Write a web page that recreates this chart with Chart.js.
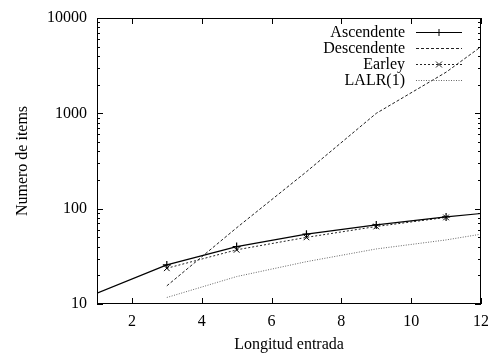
<!DOCTYPE html>
<html>
<head>
<meta charset="utf-8">
<script src="https://cdn.jsdelivr.net/npm/chart.js@4"></script>
<style>
  html, body { margin: 0; padding: 0; background: #fff; }
  #wrap { width: 488px; height: 356px; }
</style>
</head>
<body>
<div id="wrap"><canvas id="myChart"></canvas></div>
<script>
const xAsc = [1, 3, 5, 7, 9, 11, 12];
const ascendente = [13, 25.7, 40, 54, 67.5, 82, 89];
const xDesc = [3, 5, 7, 9, 11, 12];
const descendente = [15.5, 63, 244, 1000, 2700, 5000];
const xEarley = [3, 5, 7, 9, 11];
const earley = [23.7, 37, 50, 65, 81];
const xLalr = [3, 5, 7, 9, 11, 12];
const lalr = [11.7, 19.4, 27.8, 37.8, 47, 54];
const xTicks = [2, 4, 6, 8, 10, 12];
const yTicks = [10, 100, 1000, 10000];

const pts = (xs, ys) => xs.map((x, i) => ({ x: x, y: ys[i] }));
const FONT = 'Liberation Serif';

// gnuplot-like frame: inward ticks on all four sides, log minor ticks
const frame = {
  id: 'frame',
  afterDraw(chart) {
    const { ctx, chartArea: a, scales: { x, y } } = chart;
    ctx.save();
    ctx.strokeStyle = '#000';
    ctx.lineWidth = 1;
    ctx.strokeRect(a.left + 0.5, a.top + 0.5, a.right - a.left - 1, a.bottom - a.top - 1);
    ctx.beginPath();
    xTicks.forEach(v => {
      const px = Math.round(x.getPixelForValue(v)) + 0.5;
      ctx.moveTo(px, a.bottom); ctx.lineTo(px, a.bottom - 6);
      ctx.moveTo(px, a.top); ctx.lineTo(px, a.top + 6);
    });
    for (let d = 10; d <= 10000; d *= 10) {
      for (let m = 1; m < 10; m++) {
        const v = d * m;
        if (v > 10000) break;
        const len = m === 1 ? 6 : 3;
        const py = Math.round(y.getPixelForValue(v)) + 0.5;
        ctx.moveTo(a.left, py); ctx.lineTo(a.left + len, py);
        ctx.moveTo(a.right, py); ctx.lineTo(a.right - len, py);
      }
    }
    ctx.stroke();

    // legend, gnuplot style (text right-aligned, sample to the right)
    ctx.font = '16px "' + FONT + '"';
    ctx.textAlign = 'right';
    ctx.textBaseline = 'middle';
    ctx.fillStyle = '#000';
    chart.data.datasets.forEach((ds, i) => {
      const cy = 32 + i * 16;
      ctx.fillText(ds.label, 405, cy + 1);
      ctx.beginPath();
      ctx.strokeStyle = ds.borderColor;
      ctx.setLineDash(ds.borderDash || []);
      ctx.moveTo(416, cy + 0.5); ctx.lineTo(462, cy + 0.5);
      ctx.stroke();
      ctx.setLineDash([]);
      if (ds.legendMark === 'cross') {
        ctx.beginPath();
        ctx.moveTo(439, cy - 3); ctx.lineTo(439, cy + 4);
        ctx.stroke();
      } else if (ds.legendMark === 'crossRot') {
        ctx.beginPath();
        ctx.moveTo(436, cy - 2.5); ctx.lineTo(442, cy + 3.5);
        ctx.moveTo(442, cy - 2.5); ctx.lineTo(436, cy + 3.5);
        ctx.stroke();
      }
    });
    ctx.restore();
  }
};

new Chart(document.getElementById('myChart'), {
  type: 'line',
  data: {
    datasets: [{
      label: 'Ascendente',
      data: pts(xAsc, ascendente),
      borderColor: '#000',
      borderWidth: 1.2,
      pointStyle: 'cross',
      pointRadius: [0, 4, 4, 4, 4, 4, 0],
      pointBorderColor: '#000',
      pointBorderWidth: 1.2,
      legendMark: 'cross'
    }, {
      label: 'Descendente',
      data: pts(xDesc, descendente),
      borderColor: '#222',
      borderWidth: 1,
      borderDash: [3, 2],
      pointRadius: 0
    }, {
      label: 'Earley',
      data: pts(xEarley, earley),
      borderColor: '#222',
      borderWidth: 1,
      borderDash: [2, 2],
      pointStyle: 'crossRot',
      pointRadius: 4,
      pointBorderColor: '#000',
      pointBorderWidth: 1,
      legendMark: 'crossRot'
    }, {
      label: 'LALR(1)',
      data: pts(xLalr, lalr),
      borderColor: '#666',
      borderWidth: 1,
      borderDash: [1, 1.5],
      pointRadius: 0
    }]
  },
  options: {
    responsive: true,
    maintainAspectRatio: false,
    animation: false,
    layout: { autoPadding: false, padding: { left: 0, right: 7, top: 18, bottom: 0 } },
    plugins: {
      legend: { display: false },
      tooltip: { enabled: false }
    },
    scales: {
      x: {
        type: 'linear',
        min: 1,
        max: 12,
        afterBuildTicks: s => { s.ticks = xTicks.map(v => ({ value: v })); },
        afterFit: s => { s.height = 52; s.paddingLeft = 0; s.paddingRight = 0; },
        grid: { display: false, drawTicks: false },
        border: { display: false },
        ticks: { color: '#000', padding: 8, font: { family: FONT, size: 16 } },
        title: {
          display: true,
          text: 'Longitud entrada',
          color: '#000',
          font: { family: FONT, size: 16 },
          padding: { top: 0, bottom: 2 }
        }
      },
      y: {
        type: 'logarithmic',
        min: 10,
        max: 10000,
        afterBuildTicks: s => { s.ticks = yTicks.map(v => ({ value: v })); },
        afterFit: s => { s.width = 97; s.paddingTop = 0; s.paddingBottom = 0; },
        grid: { display: false, drawTicks: false },
        border: { display: false },
        ticks: {
          color: '#000',
          padding: 10,
          font: { family: FONT, size: 16 },
          callback: v => String(v)
        },
        title: {
          display: true,
          text: 'Numero de items',
          color: '#000',
          font: { family: FONT, size: 16 },
          padding: { top: 13, bottom: 0 }
        }
      }
    }
  },
  plugins: [frame]
});
</script>
</body>
</html>
